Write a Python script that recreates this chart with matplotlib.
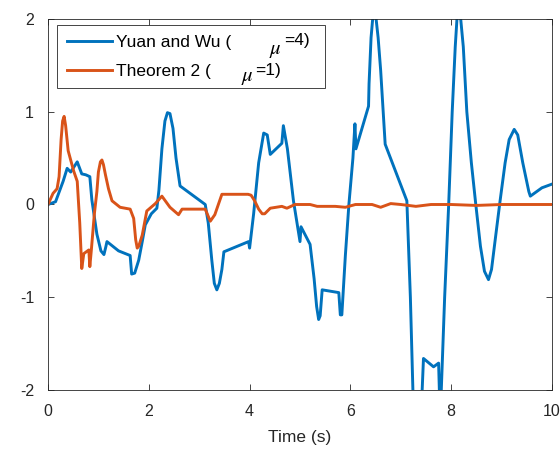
import numpy as np
import matplotlib
matplotlib.use("Agg")
import matplotlib.pyplot as plt

# 数据：时间和数值
t_yuan = [0, 0.15, 0.3, 0.38, 0.45, 0.58, 0.67, 0.75, 0.83, 0.87, 0.97, 1.05, 1.11, 1.15, 1.17,
          1.4, 1.63, 1.66, 1.72, 1.8, 1.87, 1.93, 2.05, 2.16, 2.2, 2.26, 2.32, 2.37, 2.42, 2.48,
          2.54, 2.62, 3.12, 3.18, 3.25, 3.3, 3.35, 3.4, 3.45, 3.49, 3.98, 4.0, 4.08, 4.18, 4.28,
          4.35, 4.41, 4.64, 4.67, 4.75, 4.87, 5.0, 5.02, 5.2, 5.28, 5.33, 5.37, 5.4, 5.44, 5.77,
          5.8, 5.83, 5.9, 5.97, 6.05, 6.09, 6.11, 6.36, 6.37, 6.41, 6.45, 6.5, 6.55, 6.6, 6.69,
          7.12, 7.19, 7.24, 7.33, 7.42, 7.45, 7.65, 7.75, 7.77, 7.8, 7.87, 7.95, 8.02, 8.08, 8.12,
          8.18, 8.24, 8.31, 8.4, 8.48, 8.58, 8.66, 8.74, 8.8, 8.88, 8.97, 9.07, 9.15, 9.25, 9.32,
          9.42, 9.54, 9.57, 9.8, 10]
v_yuan = [0, 0.03, 0.25, 0.39, 0.35, 0.46, 0.33, 0.32, 0.3, 0.05, -0.32, -0.5, -0.54, -0.45, -0.4,
          -0.5, -0.55, -0.75, -0.74, -0.6, -0.4, -0.22, -0.1, -0.04, 0.15, 0.6, 0.9, 0.99, 0.98, 0.82,
          0.5, 0.2, 0.0, -0.2, -0.6, -0.85, -0.92, -0.85, -0.7, -0.51, -0.4, -0.47, -0.1, 0.45, 0.77,
          0.75, 0.54, 0.66, 0.85, 0.6, 0.04, -0.4, -0.24, -0.43, -0.8, -1.1, -1.24, -1.2, -0.92, -0.95,
          -1.19, -1.19, -0.55, 0.0, 0.5, 0.87, 0.6, 1.06, 1.3, 1.8, 2.05, 2.05, 1.8, 1.45, 0.65,
          0.04, -1.0, -2.0, -2.3, -2.05, -1.66, -1.75, -1.71, -2.1, -2.05, -1.0, 0.0, 1.0, 1.7, 2.05,
          2.05, 1.7, 1.0, 0.45, 0.04, -0.45, -0.72, -0.81, -0.7, -0.35, 0.04, 0.45, 0.7, 0.81, 0.75,
          0.45, 0.14, 0.09, 0.18, 0.22]

t_thm = [0, 0.1, 0.18, 0.22, 0.26, 0.29, 0.32, 0.35, 0.4, 0.51, 0.58, 0.63, 0.67, 0.71, 0.81,
         0.83, 0.86, 0.92, 0.97, 1.0, 1.04, 1.07, 1.1, 1.14, 1.2, 1.27, 1.43, 1.63, 1.7, 1.74,
         1.77, 1.8, 1.87, 1.96, 2.13, 2.26, 2.42, 2.59, 2.66, 3.12, 3.22, 3.31, 3.45, 3.97, 4.03,
         4.1, 4.18, 4.25, 4.3, 4.41, 4.64, 4.74, 4.9, 5.2, 5.34, 5.7, 5.9, 6.1, 6.43, 6.6,
         6.8, 7.0, 7.3, 7.6, 8.0, 8.5, 9.0, 9.5, 10]
v_thm = [0, 0.12, 0.17, 0.3, 0.7, 0.9, 0.95, 0.85, 0.58, 0.36, 0.25, -0.2, -0.69, -0.53, -0.49,
         -0.67, -0.49, -0.1, 0.14, 0.35, 0.46, 0.48, 0.43, 0.32, 0.17, 0.04, -0.03, -0.05, -0.15, -0.38,
         -0.47, -0.45, -0.33, -0.07, 0.01, 0.09, -0.03, -0.11, -0.05, -0.05, -0.18, -0.11, 0.11, 0.11, 0.1,
         0.04, -0.05, -0.1, -0.1, -0.04, -0.02, -0.04, 0.0, 0.0, -0.02, -0.02, -0.03, 0.0, 0.0, -0.03,
         0.01, 0.0, -0.02, 0.0, 0.0, -0.01, 0.0, 0.0, 0.0]

# 图例分成三段：前半句、偏下的 μ、后面的 "=4)"
labels = ["Yuan and Wu (", "Theorem 2 ("]
label_tail = ["=4)", "=1)"]

plt.rcParams['font.family'] = ['Liberation Sans', 'DejaVu Sans']
plt.rcParams['axes.unicode_minus'] = False
plt.rcParams['mathtext.fontset'] = 'stix'

fig = plt.figure(figsize=(5.6, 4.55), dpi=100)
ax = fig.add_axes([48/560, 1 - 390/455, 504/560, 371/455])

ax.plot(t_yuan, v_yuan, color="#0072BD", lw=2.1, label=labels[0])
ax.plot(t_thm, v_thm, color="#D95319", lw=2.1, label=labels[1])

ax.set_xlim(0, 10)
ax.set_ylim(-2, 2)
ax.set_xticks([0, 2, 4, 6, 8, 10])
ax.set_yticks([-2, -1, 0, 1, 2])
ax.tick_params(direction="in", top=True, right=True, labelsize=11.5, length=4,
               width=0.6, colors="#262626", pad=10)
for s in ax.spines.values():
    s.set_linewidth(0.6)
    s.set_color("#262626")
ax.set_xlabel("Time (s)", fontsize=12.5, color="#262626", labelpad=8)

# mode="expand" 让图例框宽度和原图一致
top = 1 - 6/371
leg = ax.legend(loc="upper left", bbox_to_anchor=(9/504, 0.5, 268/504, top - 0.5),
                mode="expand", borderaxespad=0,
                fontsize=12.5, fancybox=False, edgecolor="#262626", framealpha=1,
                handlelength=2.6, handletextpad=0.25, borderpad=0.55, labelspacing=0.8)
leg.get_frame().set_linewidth(0.6)

# 后半段文字和 μ
for tail, xt, yt, xm, ym in zip(label_tail, [284, 255], [41, 70], [275, 247], [50, 77]):
    fig.text(xt/560, 1 - yt/455, tail, fontsize=12.5, ha="left", va="center")
    fig.text(xm/560, 1 - ym/455, r"$\mu$", fontsize=15, ha="center", va="center")

fig.savefig("out.png", dpi=100)
